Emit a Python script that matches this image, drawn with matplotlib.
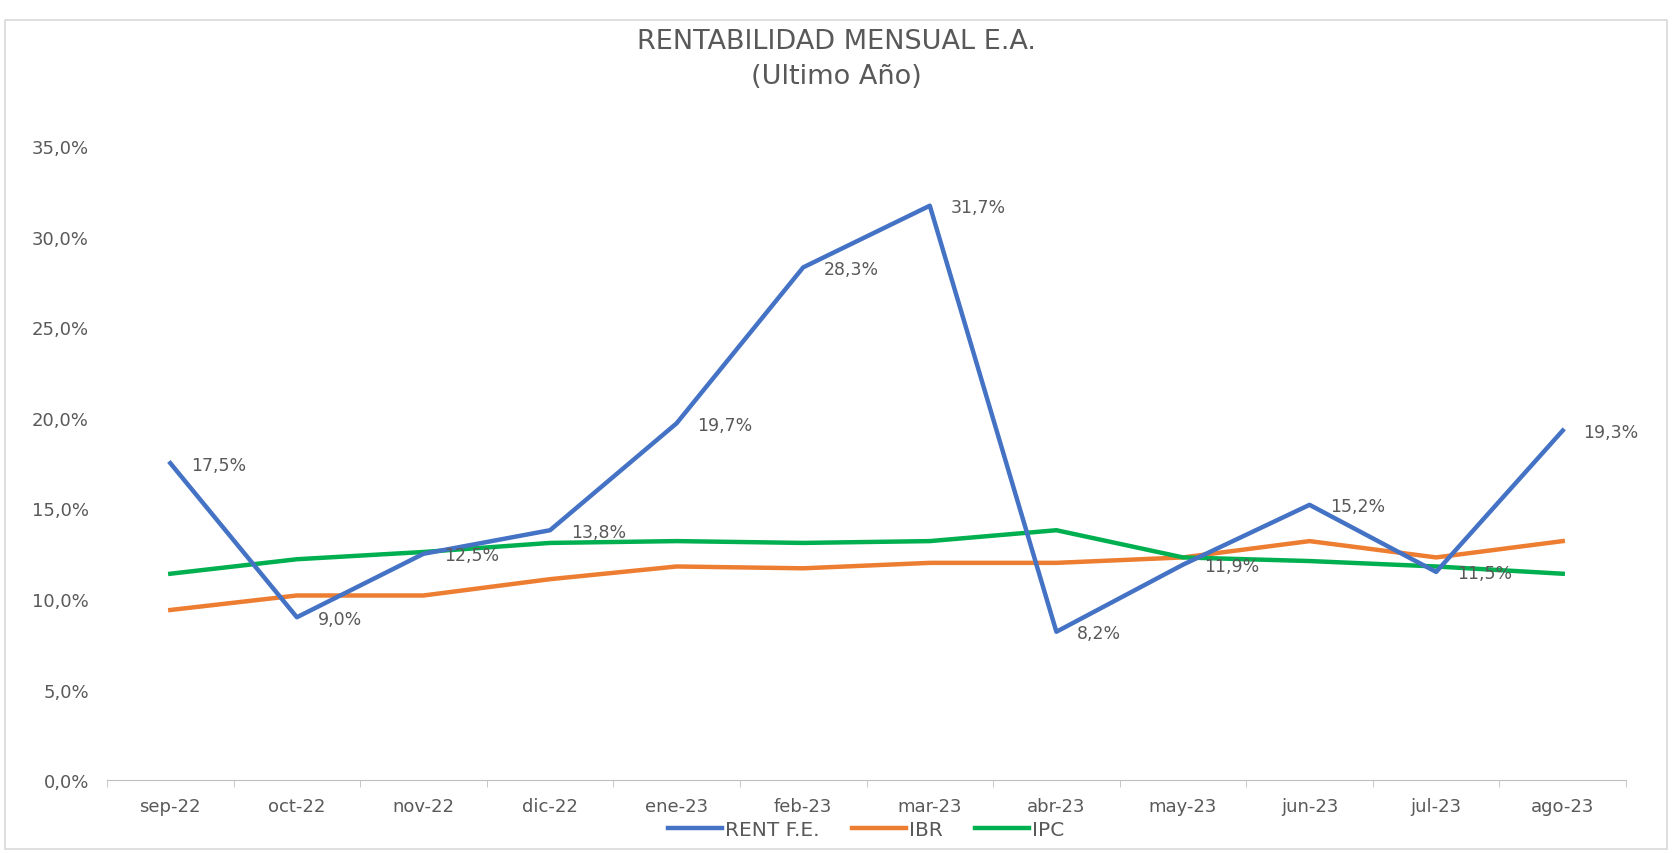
import matplotlib
matplotlib.use('agg')
import matplotlib.pyplot as plt
from matplotlib.ticker import FuncFormatter, FixedLocator
from matplotlib.patches import Rectangle

plt.rcParams['font.family'] = ['DejaVu Sans']

# datos
meses = ["sep-22", "oct-22", "nov-22", "dic-22", "ene-23", "feb-23",
         "mar-23", "abr-23", "may-23", "jun-23", "jul-23", "ago-23"]
rent_fe = [17.5, 9.0, 12.5, 13.8, 19.7, 28.3, 31.7, 8.2, 11.9, 15.2, 11.5, 19.3]
ibr = [9.4, 10.2, 10.2, 11.1, 11.8, 11.7, 12.0, 12.0, 12.3, 13.2, 12.3, 13.2]
ipc = [11.4, 12.2, 12.6, 13.1, 13.2, 13.1, 13.2, 13.8, 12.3, 12.1, 11.8, 11.4]
y_ticks = [0, 5, 10, 15, 20, 25, 30, 35]

gris = '#595959'
fig = plt.figure(figsize=(16.72, 8.54), dpi=100)
ax = fig.add_axes([0.064, 0.085, 0.9085, 0.743])

x = list(range(len(meses)))
ax.plot(x, rent_fe, color='#4472C4', lw=3.2, label='RENT F.E.', solid_joinstyle='round', zorder=3)
ax.plot(x, ibr, color='#ED7D31', lw=3.2, label='IBR', solid_joinstyle='round', zorder=2)
ax.plot(x, ipc, color='#00B050', lw=3.2, label='IPC', solid_joinstyle='round', zorder=2)

# etiquetas de datos a la derecha
for xi, v in zip(x, rent_fe):
    ax.annotate(f"{v:.1f}%".replace('.', ','), (xi, v), xytext=(15, -1),
                textcoords='offset points', ha='left', va='center',
                fontsize=12.5, color=gris, zorder=4)

ax.set_xlim(-0.5, len(meses) - 0.5)
ax.set_ylim(0, 35)
ax.set_xticks(x)
ax.set_xticklabels(meses)
ax.xaxis.set_minor_locator(FixedLocator([i - 0.5 for i in range(len(meses) + 1)]))
ax.set_yticks(y_ticks)
ax.yaxis.set_major_formatter(FuncFormatter(lambda v, p: f"{v:.1f}%".replace('.', ',')))
ax.tick_params(axis='x', which='major', length=0, pad=12, labelsize=13, labelcolor=gris)
ax.tick_params(axis='x', which='minor', length=5, color='#BFBFBF', direction='out')
ax.tick_params(axis='y', length=0, pad=13, labelsize=13, labelcolor=gris)
for s in ['top', 'right', 'left']:
    ax.spines[s].set_visible(False)
ax.spines['bottom'].set_color('#BFBFBF')

fig.text(0.5, 0.951, "RENTABILIDAD MENSUAL E.A.", ha='center', va='center', fontsize=19.5, color=gris)
fig.text(0.5, 0.910, "(Ultimo Año)", ha='center', va='center', fontsize=19.5, color=gris)

fig.legend(loc='center', bbox_to_anchor=(0.518, 0.028), ncol=3, frameon=False,
           fontsize=14.5, labelcolor=gris, handlelength=2.7, handletextpad=0.15, columnspacing=1.6)

fig.patches.append(Rectangle((0.003, 0.005), 0.994, 0.97, transform=fig.transFigure,
                             fill=False, edgecolor='#D9D9D9', lw=1.2))

plt.savefig('out.png')
